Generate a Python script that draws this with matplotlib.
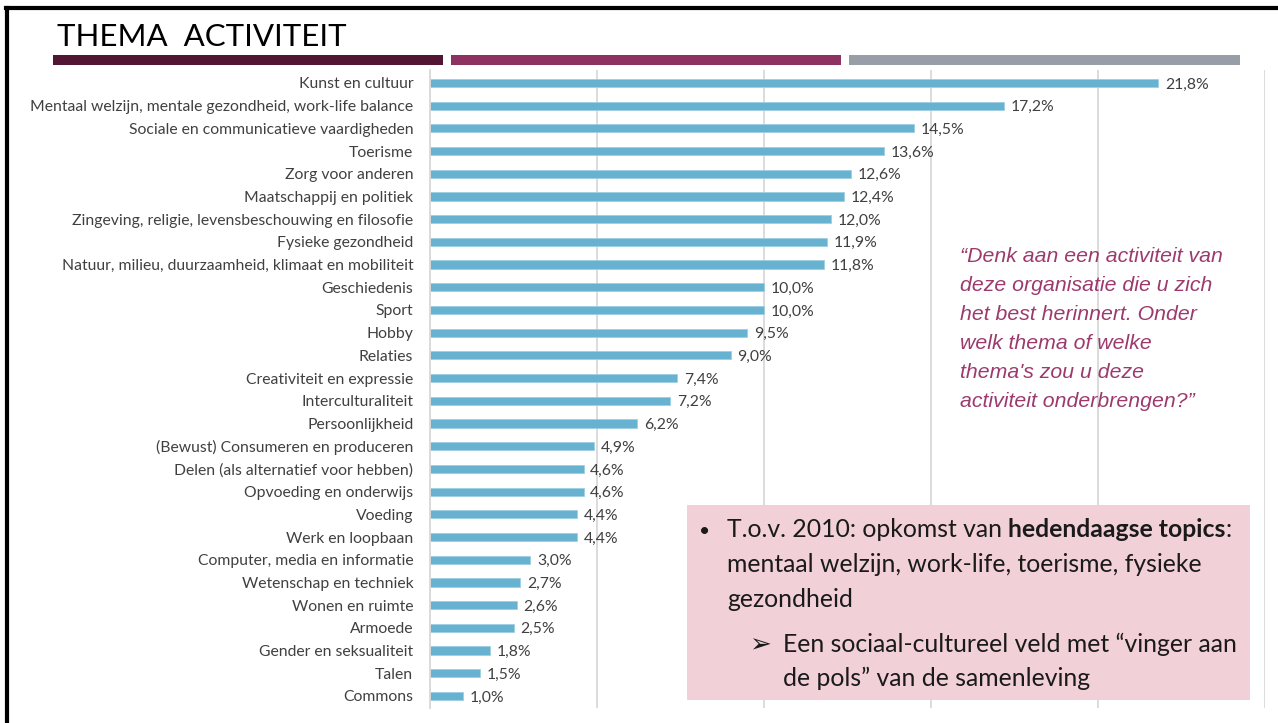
import matplotlib
matplotlib.use("Agg")
import matplotlib.pyplot as plt
from matplotlib.patches import Rectangle

plt.rcParams["font.family"] = ["Lato", "DejaVu Sans"]

themes = ["Kunst en cultuur",
          "Mentaal welzijn, mentale gezondheid, work-life balance",
          "Sociale en communicatieve vaardigheden",
          "Toerisme",
          "Zorg voor anderen",
          "Maatschappij en politiek",
          "Zingeving, religie, levensbeschouwing en filosofie",
          "Fysieke gezondheid",
          "Natuur, milieu, duurzaamheid, klimaat en mobiliteit",
          "Geschiedenis",
          "Sport",
          "Hobby",
          "Relaties",
          "Creativiteit en expressie",
          "Interculturaliteit",
          "Persoonlijkheid",
          "(Bewust) Consumeren en produceren",
          "Delen (als alternatief voor hebben)",
          "Opvoeding en onderwijs",
          "Voeding",
          "Werk en loopbaan",
          "Computer, media en informatie",
          "Wetenschap en techniek",
          "Wonen en ruimte",
          "Armoede",
          "Gender en seksualiteit",
          "Talen",
          "Commons"]
pct = [21.8, 17.2, 14.5, 13.6, 12.6, 12.4, 12.0, 11.9, 11.8, 10.0, 10.0, 9.5,
       9.0, 7.4, 7.2, 6.2, 4.9, 4.6, 4.6, 4.4, 4.4, 3.0, 2.7, 2.6, 2.5, 1.8,
       1.5, 1.0]

W, H = 1278, 723
fig = plt.figure(figsize=(W / 100, H / 100), dpi=100)

# slide border
fig.add_artist(plt.Line2D([6 / W, 1], [1 - 8 / H, 1 - 8 / H], color="black", lw=3))
fig.add_artist(plt.Line2D([7 / W, 7 / W], [0, 1 - 8 / H], color="black", lw=3))

# title and coloured rules
fig.text(57 / W, 1 - 46 / H, "THEMA  ACTIVITEIT", fontsize=22.5, color="black",
         ha="left", va="baseline")
for x0, x1, c in [(53, 443, "#521634"), (451, 841, "#8E3262"), (849, 1240, "#979EA8")]:
    fig.add_artist(Rectangle((x0 / W, 1 - 65 / H), (x1 - x0) / W, 10 / H,
                             color=c, transform=fig.transFigure, lw=0))

ax = fig.add_axes([430 / W, 1 - 708 / H, (1265 - 430) / W, (708 - 70) / H])
y = list(range(len(themes)))
ax.barh(y, pct, height=0.36, color="#67B2D1", edgecolor="#9FCFE3", linewidth=0.6)
for yi, v in zip(y, pct):
    ax.text(v + 0.2, yi, f"{v:.1f}%".replace(".", ","), va="center_baseline",
            ha="left", fontsize=11.3, color="#404040")
ax.set_xlim(0, 25)
ax.set_ylim(len(themes) - 0.47, -0.57)
ax.set_xticks([0, 5, 10, 15, 20, 25])
ax.grid(axis="x", color="#D9D9D9", lw=1.3)
ax.set_axisbelow(True)
ax.tick_params(axis="x", length=0, labelbottom=False)
ax.set_yticks(y)
ax.set_yticklabels(themes, fontsize=11.3, color="#404040")
ax.tick_params(axis="y", length=0, pad=12)
for s in ["top", "right", "bottom"]:
    ax.spines[s].set_visible(False)
ax.spines["left"].set_color("#D9D9D9")
ax.spines["left"].set_linewidth(1.3)

# quote
quote = ["\u201cDenk aan een activiteit van",
         "deze organisatie die u zich",
         "het best herinnert. Onder",
         "welk thema of welke",
         "thema's zou u deze",
         "activiteit onderbrengen?\u201d"]
for i, line in enumerate(quote):
    fig.text(960 / W, 1 - (262 + 29 * i) / H, line, family="Liberation Sans",
             style="italic", fontsize=15.3, color="#9C3A6E", va="baseline")

# pink box
fig.add_artist(Rectangle((687 / W, 1 - 700 / H), (1250 - 687) / W, (700 - 505) / H,
                         color="#F2D0D8", transform=fig.transFigure, lw=0, zorder=5))
fs = 17.8
fig.canvas.draw()
r = fig.canvas.get_renderer()


def runs(x, ybase, parts):
    for txt, wt in parts:
        t = fig.text(x / W, 1 - ybase / H, txt, fontsize=fs, fontweight=wt,
                     color="#1a1a1a", va="baseline", zorder=6)
        x = t.get_window_extent(r).x1


fig.text(699 / W, 1 - 537 / H, "\u2022", fontsize=fs - 4, color="#1a1a1a",
         va="baseline", zorder=6)
runs(727, 537, [("T.o.v. 2010: opkomst van ", "normal"),
                ("hedendaagse topics", "bold"), (":", "normal")])
runs(727, 572, [("mentaal welzijn, work-life, toerisme, fysieke", "normal")])
runs(727, 607, [("gezondheid", "normal")])
fig.text(749 / W, 1 - 652 / H, "\u27a2", family=["DejaVu Sans"], fontsize=fs + 1,
         color="#1a1a1a", va="baseline", zorder=6)
runs(783, 652, [("Een sociaal-cultureel veld met \u201cvinger aan", "normal")])
runs(783, 686, [("de pols\u201d van de samenleving", "normal")])

fig.savefig("out.png", dpi=100)
